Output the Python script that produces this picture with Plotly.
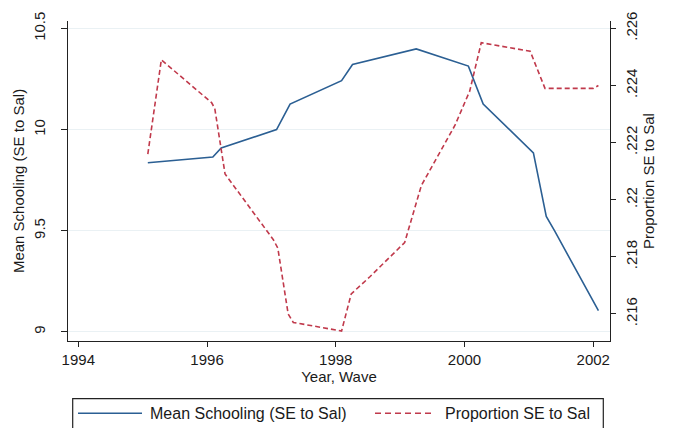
import plotly.graph_objects as go

# Mean schooling (SE to Sal), left axis
school_x = [1995.08, 1996.09, 1996.22, 1997.08, 1997.29, 1998.09, 1998.26,
            1999.25, 2000.06, 2000.29, 2001.07, 2001.27, 2001.40, 2002.08]
school_y = [9.836, 9.865, 9.909, 10.0, 10.126, 10.242, 10.322,
            10.399, 10.314, 10.126, 9.885, 9.571, 9.499, 9.105]

# Proportion SE to Sal, right axis
prop_x = [1995.08, 1995.29, 1996.07, 1996.12, 1996.28, 1997.03, 1997.10,
          1997.26, 1997.34, 1998.09, 1998.24, 1998.53, 1999.07, 1999.33,
          1999.85, 2000.08, 2000.26, 2001.02, 2001.25, 2002.00, 2002.08]
prop_y = [0.2216, 0.2249, 0.2234, 0.2232, 0.2209, 0.2186, 0.2183,
          0.2160, 0.2157, 0.2154, 0.2167, 0.2173, 0.2185, 0.2205,
          0.2226, 0.2238, 0.2255, 0.2252, 0.2239, 0.2239, 0.2240]

x_ticks = [1994, 1996, 1998, 2000, 2002]
left_ticks = [9, 9.5, 10, 10.5]
left_labels = ["9", "9.5", "10", "10.5"]
right_ticks = [0.216, 0.218, 0.220, 0.222, 0.224, 0.226]
right_labels = [".216", ".218", ".22", ".222", ".224", ".226"]

series_names = ["Mean Schooling (SE to Sal)", "Proportion SE to Sal"]
BLUE = "#2b5f93"
RED = "#c0394b"

FONT = "Liberation Sans, Arial, sans-serif"
TXT = "#1a1a1a"

fig = go.Figure()
fig.add_trace(go.Scatter(x=school_x, y=school_y, mode="lines",
                         name=series_names[0], showlegend=False,
                         line=dict(color=BLUE, width=1.6)))
fig.add_trace(go.Scatter(x=prop_x, y=prop_y, mode="lines", yaxis="y2",
                         name=series_names[1], showlegend=False,
                         line=dict(color=RED, width=1.6, dash="5px,3px")))

# Legend box drawn in paper coordinates (Stata-style boxed legend)
PL, PW, PB, PH = 68, 542, 341, 328
def px(x):
    return (x - PL) / PW
def py(y):
    return (PB - y) / PH

ly = py(415)
shapes = [
    dict(type="rect", xref="paper", yref="paper", x0=px(72.7), x1=px(603.3),
         y0=py(400), y1=py(440), line=dict(color="#222", width=1.2),
         fillcolor="white", layer="above"),
    dict(type="line", xref="paper", yref="paper", x0=px(78), x1=px(142),
         y0=ly, y1=ly, line=dict(color=BLUE, width=1.6)),
    dict(type="line", xref="paper", yref="paper", x0=px(375), x1=px(432),
         y0=ly, y1=ly, line=dict(color=RED, width=1.6, dash="6px,4px")),
]
annotations = [
    dict(text=series_names[0], xref="paper", yref="paper", x=px(148), y=ly,
         xanchor="left", yanchor="middle", showarrow=False,
         font=dict(size=16, color=TXT, family=FONT)),
    dict(text=series_names[1], xref="paper", yref="paper", x=px(443), y=ly,
         xanchor="left", yanchor="middle", showarrow=False,
         font=dict(size=16, color=TXT, family=FONT)),
]

fig.update_layout(
    width=674, height=428,
    margin=dict(l=PL, r=674 - PL - PW, t=PB - PH, b=428 - PB),
    paper_bgcolor="white", plot_bgcolor="white",
    font=dict(family=FONT, size=15, color=TXT),
    showlegend=False,
    shapes=shapes, annotations=annotations,
    xaxis=dict(range=[1993.84, 2002.26], tickvals=x_ticks,
               ticks="outside", ticklen=5, tickcolor="#222",
               showline=True, linecolor="#222", linewidth=1.2,
               showgrid=False, zeroline=False,
               title=dict(text="Year, Wave", font=dict(size=15), standoff=4),
               tickfont=dict(size=15)),
    yaxis=dict(range=[8.955, 10.537], tickvals=left_ticks, ticktext=left_labels,
               ticks="outside", ticklen=6, tickcolor="#222", tickangle=-90,
               showline=True, linecolor="#222", linewidth=1.2,
               showgrid=True, gridcolor="#eaf1f4", gridwidth=1, zeroline=False,
               ticklabelstandoff=10,
               title=dict(text="Mean Schooling (SE to Sal)", font=dict(size=15), standoff=2),
               tickfont=dict(size=15)),
    yaxis2=dict(range=[0.21505, 0.22626], tickvals=right_ticks, ticktext=right_labels,
                overlaying="y", side="right",
                ticks="outside", ticklen=5, tickcolor="#222", tickangle=-90,
                showline=True, linecolor="#222", linewidth=1.2,
                showgrid=False, zeroline=False,
                ticklabelstandoff=3,
                title=dict(text="Proportion SE to Sal", font=dict(size=15), standoff=4),
                tickfont=dict(size=15)),
)

fig.write_html("out.html")
